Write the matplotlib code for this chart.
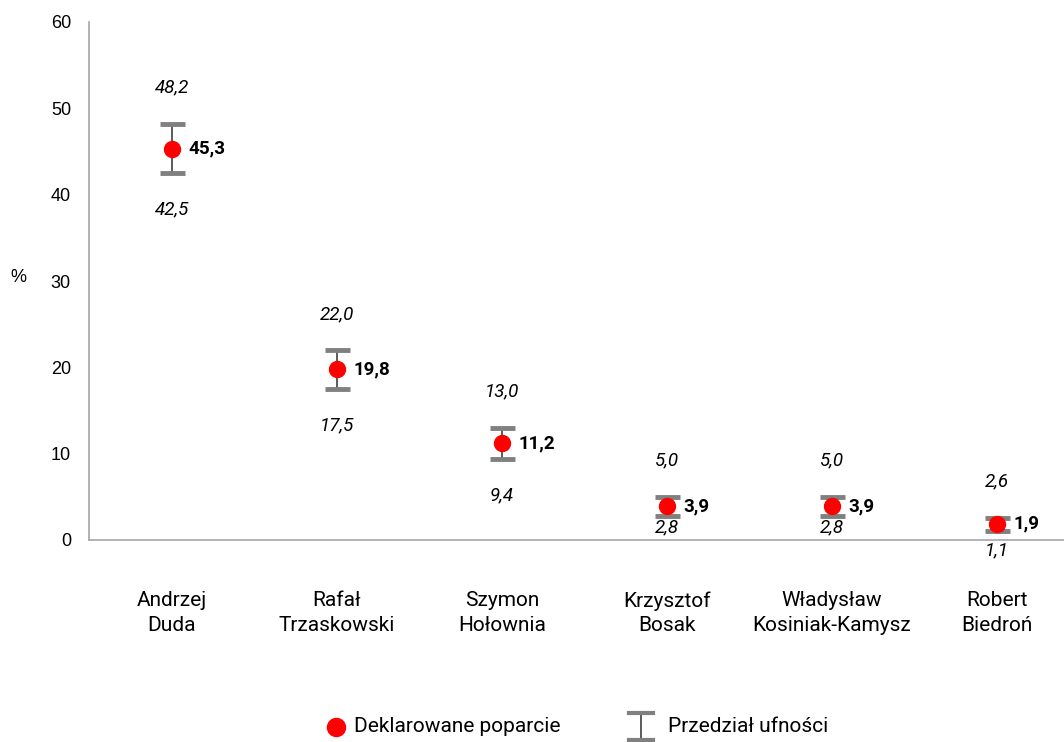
import matplotlib.pyplot as plt
from matplotlib.lines import Line2D

candidates = ['Andrzej\nDuda', 'Rafał\nTrzaskowski', 'Szymon\nHołownia',
              'Krzysztof\nBosak', 'Władysław\nKosiniak-Kamysz', 'Robert\nBiedroń']
support = [45.3, 19.8, 11.2, 3.9, 3.9, 1.9]
ci_low = [42.5, 17.5, 9.4, 2.8, 2.8, 1.1]
ci_high = [48.2, 22.0, 13.0, 5.0, 5.0, 2.6]

# przesunięcie etykiety dolnej granicy (w punktach) - dla małych wartości bliżej
low_offsets = [-26, -26, -26, -8, -8, -14]

def fmt(v):
    return f"{v:.1f}".replace('.', ',')

fig = plt.figure(figsize=(10.64, 7.42), dpi=100)
ax = fig.add_axes([89 / 1064, 1 - 540 / 742, (1064 - 89) / 1064, 518 / 742])

x = list(range(len(candidates)))
err = [[s - l for s, l in zip(support, ci_low)], [h - s for s, h in zip(support, ci_high)]]

eb = ax.errorbar(x, support, yerr=err, fmt='none', ecolor='#404040', elinewidth=1.2,
                 capsize=9, capthick=3.5, zorder=2)
for cap in eb[1]:
    cap.set_color('#808080')
    cap.set_markeredgecolor('#808080')
ax.plot(x, support, 'o', color='#ff0000', markersize=11.5, zorder=3, linestyle='none')

for i, (s, l, h) in enumerate(zip(support, ci_low, ci_high)):
    ax.annotate(fmt(s), (i, s), xytext=(12, 0), textcoords='offset points',
                ha='left', va='center', fontsize=13.5, fontweight='bold', family='Roboto')
    ax.annotate(fmt(h), (i, h), xytext=(0, 26), textcoords='offset points',
                ha='center', va='center', fontsize=13.5, style='italic', family='Roboto')
    ax.annotate(fmt(l), (i, l), xytext=(0, low_offsets[i]), textcoords='offset points',
                ha='center', va='center', fontsize=13.5, style='italic', family='Roboto')

ax.set_ylim(0, 60)
ax.set_xlim(-0.503, 5.406)
ax.set_yticks(range(0, 61, 10))
ax.set_xticks(x)
ax.set_xticklabels(candidates, family='Roboto', fontsize=15, linespacing=1.35)
for lbl in ax.get_yticklabels():
    lbl.set_family('Liberation Sans')
    lbl.set_fontsize(13)
ax.tick_params(axis='x', length=0, pad=37)
ax.tick_params(axis='y', length=0, pad=13)

for side in ['top', 'right']:
    ax.spines[side].set_visible(False)
for side in ['left', 'bottom']:
    ax.spines[side].set_color('#a6a6a6')
    ax.spines[side].set_linewidth(1.2)

fig.text(18 / 1064, 1 - 277 / 742, '%', family='Liberation Sans', fontsize=13,
         ha='center', va='center')

# legenda na dole
ly = 1 - 727 / 742
fig.add_artist(Line2D([336 / 1064], [ly], marker='o', color='#ff0000', markersize=13,
                      linestyle='none', transform=fig.transFigure))
fig.text(354 / 1064, ly, 'Deklarowane poparcie', family='Roboto', fontsize=15,
         ha='left', va='center')
lx = 641 / 1064
fig.add_artist(Line2D([lx, lx], [1 - 713 / 742, 1 - 740 / 742], color='#404040', lw=1.2,
                      transform=fig.transFigure))
for yy in [713, 740]:
    fig.add_artist(Line2D([lx - 12 / 1064, lx + 12 / 1064], [1 - yy / 742, 1 - yy / 742],
                          color='#808080', lw=3, transform=fig.transFigure))
fig.text(668 / 1064, ly, 'Przedział ufności', family='Roboto', fontsize=15,
         ha='left', va='center')

fig.savefig('out.png', dpi=100)
